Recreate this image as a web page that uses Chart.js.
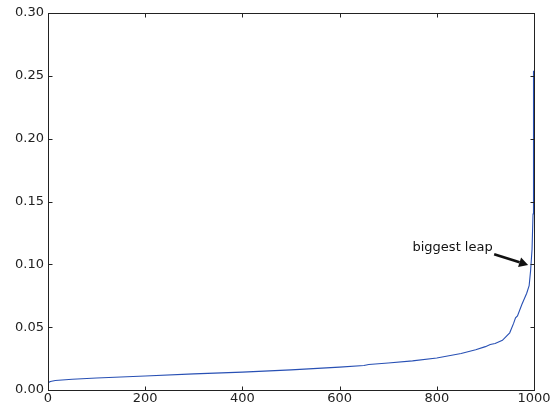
<!DOCTYPE html>
<html>
<head>
<meta charset="utf-8">
<script src="https://cdn.jsdelivr.net/npm/chart.js@4.4.0/dist/chart.umd.min.js"></script>
<style>
  html, body { margin: 0; padding: 0; background: #ffffff; }
  #wrap { width: 557px; height: 406px; }
</style>
</head>
<body>
<div id="wrap"><canvas id="c" width="557" height="406"></canvas></div>
<script>
// Sorted values (index -> value)
const xIndex = [0, 5, 15, 50, 100, 200, 300, 400, 500, 600, 650, 660, 700, 750, 800, 850, 880, 900, 910, 920, 935, 950, 958, 962, 966, 975, 985, 990, 993, 996, 998, 999];
const yValue = [0.0058, 0.0068, 0.0075, 0.0085, 0.0095, 0.0112, 0.0128, 0.0142, 0.0160, 0.0182, 0.0195, 0.0203, 0.0215, 0.0232, 0.0255, 0.0290, 0.0320, 0.0345, 0.0362, 0.0370, 0.0395, 0.0455, 0.0530, 0.0575, 0.0590, 0.0680, 0.0770, 0.0830, 0.0950, 0.1120, 0.1400, 0.2540];

const xTicks = [0, 200, 400, 600, 800, 1000];
const yTicks = [0.00, 0.05, 0.10, 0.15, 0.20, 0.25, 0.30];

const annotationText = "biggest leap";
const annotationXY = [988, 0.0995];      // arrow tip
const annotationTextXY = [750, 0.1105];  // text baseline-left
const arrowTailXY = [918, 0.108];

const FONT = "DejaVu Sans";
const FONT_SIZE = 13;

const points = xIndex.map((x, i) => ({ x: x, y: yValue[i] }));

const framePlugin = {
  id: 'frame',
  afterDraw(chart) {
    const ctx = chart.ctx;
    const a = chart.chartArea;
    const xs = chart.scales.x, ys = chart.scales.y;
    ctx.save();
    ctx.strokeStyle = '#222';
    ctx.lineWidth = 1;
    const L = Math.round(a.left) + 0.5, R = Math.round(a.right) + 0.5;
    const T = Math.round(a.top) + 0.5, B = Math.round(a.bottom) + 0.5;
    ctx.strokeRect(L, T, R - L, B - T);
    const tl = 4;
    ctx.beginPath();
    xTicks.forEach(v => {
      const px = Math.round(xs.getPixelForValue(v)) + 0.5;
      ctx.moveTo(px, B); ctx.lineTo(px, B - tl);
      ctx.moveTo(px, T); ctx.lineTo(px, T + tl);
    });
    yTicks.forEach(v => {
      const py = Math.round(ys.getPixelForValue(v)) + 0.5;
      ctx.moveTo(L, py); ctx.lineTo(L + tl, py);
      ctx.moveTo(R, py); ctx.lineTo(R - tl, py);
    });
    ctx.stroke();

    // annotation
    ctx.fillStyle = '#111';
    ctx.font = FONT_SIZE + 'px "' + FONT + '"';
    ctx.textAlign = 'left';
    ctx.textBaseline = 'alphabetic';
    ctx.fillText(annotationText, xs.getPixelForValue(annotationTextXY[0]), ys.getPixelForValue(annotationTextXY[1]));

    const tx = xs.getPixelForValue(arrowTailXY[0]), ty = ys.getPixelForValue(arrowTailXY[1]);
    const hx = xs.getPixelForValue(annotationXY[0]), hy = ys.getPixelForValue(annotationXY[1]);
    const ang = Math.atan2(hy - ty, hx - tx);
    const headLen = 9, headW = 5;
    const bx = hx - headLen * Math.cos(ang), by = hy - headLen * Math.sin(ang);
    ctx.strokeStyle = '#111';
    ctx.lineWidth = 2.6;
    ctx.beginPath();
    ctx.moveTo(tx, ty);
    ctx.lineTo(bx, by);
    ctx.stroke();
    ctx.beginPath();
    ctx.moveTo(hx, hy);
    ctx.lineTo(bx + headW * Math.sin(ang), by - headW * Math.cos(ang));
    ctx.lineTo(bx - headW * Math.sin(ang), by + headW * Math.cos(ang));
    ctx.closePath();
    ctx.fill();
    ctx.restore();
  }
};

new Chart(document.getElementById('c'), {
  type: 'line',
  data: {
    datasets: [{
      data: points,
      borderColor: '#2850b4',
      borderWidth: 1.1,
      pointRadius: 0,
      tension: 0,
      fill: false
    }]
  },
  options: {
    responsive: false,
    animation: false,
    devicePixelRatio: 1,
    layout: { padding: { top: 13, right: 23, left: 0, bottom: 0 } },
    plugins: { legend: { display: false }, tooltip: { enabled: false } },
    scales: {
      x: {
        type: 'linear', min: 0, max: 1000,
        afterBuildTicks: s => { s.ticks = xTicks.map(v => ({ value: v })); },
        afterFit: s => { s.height = 16; },
        grid: { display: false, drawTicks: false },
        border: { display: false },
        ticks: { color: '#222', font: { family: FONT, size: FONT_SIZE }, padding: 1, maxRotation: 0, autoSkip: false,
                 callback: v => String(v) }
      },
      y: {
        type: 'linear', min: 0, max: 0.30,
        afterBuildTicks: s => { s.ticks = yTicks.map(v => ({ value: v })); },
        afterFit: s => { s.width = 48; },
        grid: { display: false, drawTicks: false },
        border: { display: false },
        ticks: { color: '#222', font: { family: FONT, size: FONT_SIZE }, padding: 4, autoSkip: false,
                 callback: v => Number(v).toFixed(2) }
      }
    }
  },
  plugins: [framePlugin]
});
</script>
</body>
</html>
